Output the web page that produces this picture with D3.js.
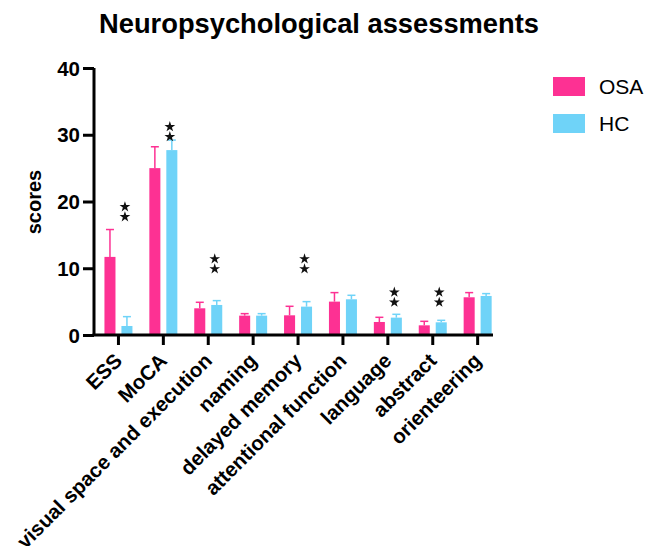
<!DOCTYPE html>
<html><head><meta charset="utf-8">
<script src="https://cdn.jsdelivr.net/npm/d3@7"></script>
<style>body{margin:0;background:#fff;}svg{display:block;font-family:"Liberation Sans",Arial,sans-serif;}</style>
</head><body>
<svg id="c" width="646" height="546"></svg>
<script>
const categories = ["ESS","MoCA","visual space and execution","naming","delayed memory","attentional function","language","abstract","orienteering"];
const seriesNames = ["OSA","HC"];
const osaMean = [11.7,25.0,4.0,2.9,2.95,5.0,1.95,1.45,5.65];
const osaErr  = [15.8,28.2,4.9,3.2,4.3,6.35,2.65,2.05,6.35];
const hcMean  = [1.35,27.7,4.5,2.9,4.25,5.35,2.6,1.9,5.85];
const hcErr   = [2.75,29.2,5.15,3.2,5.0,5.95,3.1,2.2,6.2];
const starPos = [19.2,31.2,11.4,null,11.4,null,6.4,6.4,null];
const yTicks = [0,10,20,30,40];
const colors = ["#fd3193","#6fd3f8"];

const svg = d3.select("#c");
const x0 = 94, xEnd = 493, yTop = 68, yBot = 335;
const y = d3.scaleLinear().domain([0,40]).range([yBot,yTop]);
const x = d3.scaleBand().domain(categories).range([x0+2, x0+2+9*44.9]).paddingInner(0).paddingOuter(0);
const xs = d3.scaleBand().domain(seriesNames).range([-14,14]).paddingInner(0.35).paddingOuter(0);

svg.append("text").attr("x",319).attr("y",33).attr("text-anchor","middle")
  .attr("font-size",27.3).attr("font-weight","bold").text("Neuropsychological assessments");

const series = [
  {name:"OSA", mean:osaMean, err:osaErr, color:colors[0]},
  {name:"HC", mean:hcMean, err:hcErr, color:colors[1]}
];
const g = svg.append("g");
series.forEach(s=>{
  const gs = g.append("g");
  categories.forEach((c,i)=>{
    const cx = x(c)+x.bandwidth()/2;
    const bx = cx + xs(s.name);
    const bw = xs.bandwidth();
    gs.append("rect").attr("x",bx).attr("y",y(s.mean[i])).attr("width",bw).attr("height",y(0)-y(s.mean[i])).attr("fill",s.color);
    const mx = bx+bw/2;
    gs.append("line").attr("x1",mx).attr("x2",mx).attr("y1",y(s.mean[i])).attr("y2",y(s.err[i])).attr("stroke",s.color).attr("stroke-width",1.5);
    gs.append("line").attr("x1",mx-4).attr("x2",mx+4).attr("y1",y(s.err[i])).attr("y2",y(s.err[i])).attr("stroke",s.color).attr("stroke-width",1.5);
  });
});

// stars
const star = d3.symbol().type(d3.symbolStar).size(36);
categories.forEach((c,i)=>{
  if(starPos[i]==null) return;
  const cx = x(c)+x.bandwidth()/2 + xs("HC") + xs.bandwidth()/2 - 2;
  [0,1.5].forEach(o=>{
    svg.append("path").attr("d",star()).attr("transform",`translate(${cx},${y(starPos[i]-o)})`).attr("fill","#111");
  });
});

// y axis
const ya = svg.append("g").attr("transform",`translate(${x0},0)`)
  .call(d3.axisLeft(y).tickValues(yTicks).tickSize(11).tickPadding(3).tickFormat(d3.format("d")));
ya.select(".domain").attr("stroke","#000").attr("stroke-width",3).attr("d",`M0,${yTop}V${yBot}`);
ya.selectAll(".tick line").attr("stroke","#000").attr("stroke-width",3);
ya.selectAll("text").attr("font-size",20.5).attr("font-weight","bold").attr("fill","#000").attr("font-family","Liberation Sans, Arial").attr("dy","0.35em");

// x axis
const xa = svg.append("g").attr("transform",`translate(0,${yBot})`)
  .call(d3.axisBottom(x).tickSize(10).tickPadding(4));
xa.select(".domain").attr("stroke","#000").attr("stroke-width",3).attr("d",`M${x0-1.5},0H${xEnd}`);
xa.selectAll(".tick line").attr("stroke","#000").attr("stroke-width",3);
xa.selectAll("text").attr("font-size",20.5).attr("font-weight","bold").attr("fill","#000")
  .attr("font-family","Liberation Sans, Arial")
  .attr("text-anchor","end").attr("y",0).attr("dy","0").attr("transform","translate(5,27) rotate(-45)");

// y label
svg.append("text").attr("transform","translate(41,202) rotate(-90)").attr("text-anchor","middle")
  .attr("font-size",20).attr("font-weight","bold").text("scores");

// legend
series.forEach((s,i)=>{
  svg.append("rect").attr("x",553).attr("y",77+i*37).attr("width",32).attr("height",19).attr("fill",s.color);
  svg.append("text").attr("x",599).attr("y",94+i*37).attr("font-size",21).attr("fill","#000").text(s.name);
});
</script>
</body></html>
